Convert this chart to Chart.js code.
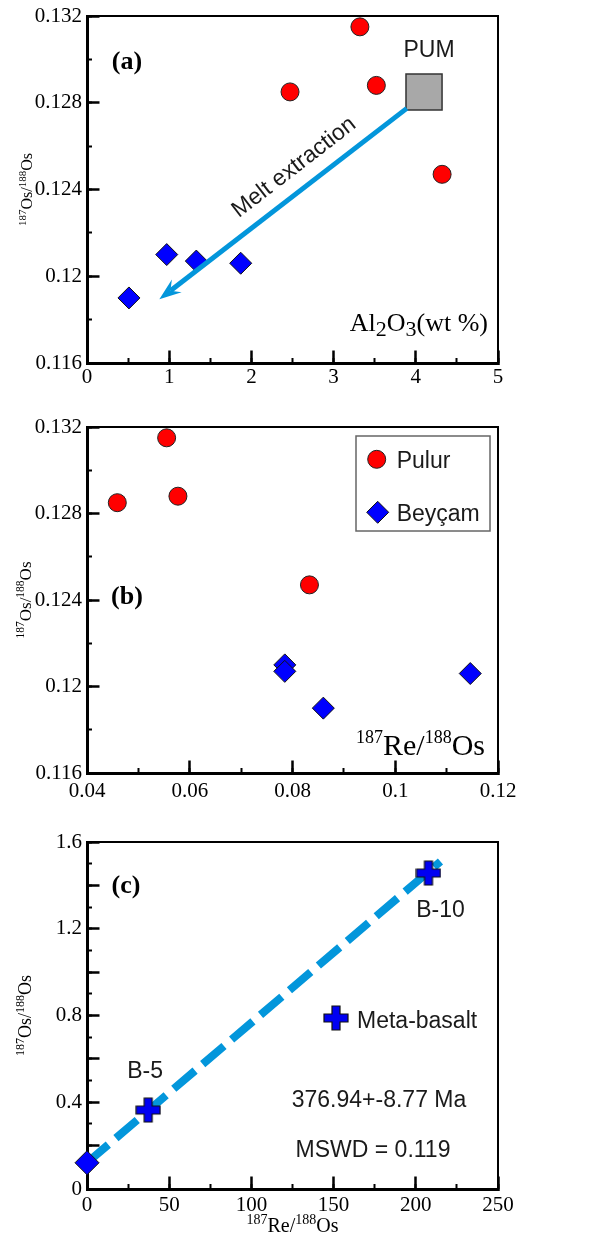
<!DOCTYPE html>
<html>
<head>
<meta charset="utf-8">
<title>Os isotope plots</title>
<script src="https://cdn.jsdelivr.net/npm/chart.js@4.4.1/dist/chart.umd.min.js"></script>
<style>
  html, body { margin: 0; padding: 0; background: #fff; }
  #wrap { position: relative; width: 606px; height: 1241px; overflow: hidden; }
  canvas { position: absolute; left: 0; }
</style>
</head>
<body>
<div id="wrap">
  <canvas id="chartA" width="606" height="400" style="top:0"></canvas>
  <canvas id="chartB" width="606" height="410" style="top:400px"></canvas>
  <canvas id="chartC" width="606" height="441" style="top:800px"></canvas>
</div>
<script>
// --- DATA ---
// Pulur peridotites
const pulurAl2O3 = [2.47, 3.32, 3.52, 4.32];
const pulurReOs  = [0.0459, 0.0555, 0.0577, 0.0833];
const pulurOsOs  = [0.1285, 0.1315, 0.1288, 0.1247];

// Beyçam peridotites
const beycamAl2O3 = [0.51, 0.97, 1.33, 1.87];
const beycamReOs  = [0.0860, 0.0785, 0.0785, 0.1146];
const beycamOsOs  = [0.1190, 0.1210, 0.1207, 0.1206];

// primitive upper mantle
const pumAl2O3 = [4.1];
const pumOsOs  = [0.1285];

// melt extraction trend (start, end)
const meltAl2O3 = [3.89, 0.88];
const meltOsOs  = [0.12774, 0.11894];

// meta-basalt isochron
const basaltNames = ['B-5', 'B-10'];
const basaltReOs  = [37.2, 207.7];
const basaltOsOs  = [0.364, 1.457];
const initialReOs = [0];
const initialOsOs = [0.121];
const isochronReOs = [0, 215];
const isochronOsOs = [0.121, 1.51];

// tick values and labels
const al2o3Ticks  = [0, 1, 2, 3, 4, 5];
const al2o3Labels = ['0', '1', '2', '3', '4', '5'];
const osTicks     = [0.116, 0.12, 0.124, 0.128, 0.132];
const osLabels    = ['0.116', '0.12', '0.124', '0.128', '0.132'];
const reOsTicks   = [0.04, 0.06, 0.08, 0.1, 0.12];
const reOsLabels  = ['0.04', '0.06', '0.08', '0.1', '0.12'];
const isoXTicks   = [0, 50, 100, 150, 200, 250];
const isoXLabels  = ['0', '50', '100', '150', '200', '250'];
const isoYTicks   = [0, 0.2, 0.4, 0.6, 0.8, 1.0, 1.2, 1.4, 1.6];
const isoYLabels  = ['0', '', '0.4', '', '0.8', '', '1.2', '', '1.6'];

const SERIF = '"Liberation Serif", "Times New Roman", serif';
const SANS = '"Liberation Sans", Arial, sans-serif';
const RED = '#ff0000';
const BLUE = '#0000ff';
const CYAN = '#0396db';
const INK = '#1a1a1a';

const zip = (xs, ys) => xs.map((x, i) => ({ x, y: ys[i] }));

// --- AXES ---
// ticks point into the plot, so tickLength is negative
function majorAxis(pos, a) {
  const isX = pos === 'bottom';
  return {
    type: 'linear', position: pos, min: a.min, max: a.max,
    border: { color: '#000', width: 3 },
    grid: { drawOnChartArea: false, tickLength: -12.5, tickWidth: 2.5, tickColor: '#000' },
    ticks: {
      autoSkip: false, maxRotation: 0, padding: a.pad, color: '#000',
      font: { family: SERIF, size: 21 },
      callback: (v, i) => a.labels[i]
    },
    afterBuildTicks: s => { s.ticks = a.ticks.map(v => ({ value: v })); },
    afterFit: s => {
      if (isX) s.height = a.size; else s.width = a.size;
      s.paddingLeft = s.paddingRight = s.paddingTop = s.paddingBottom = 0;
    }
  };
}

// zero-size companion axis that only draws the short minor ticks
function minorAxis(pos, a) {
  const isX = pos === 'bottom';
  return {
    type: 'linear', position: pos, min: a.min, max: a.max, weight: -1,
    border: { display: false },
    grid: { drawOnChartArea: false, tickLength: -5, tickWidth: 2, tickColor: '#000' },
    ticks: { display: false, stepSize: a.minor },
    afterFit: s => {
      if (isX) s.height = 0; else s.width = 0;
      s.paddingLeft = s.paddingRight = s.paddingTop = s.paddingBottom = 0;
    }
  };
}

function scalesFor(x, y) {
  return {
    x: majorAxis('bottom', x), y: majorAxis('left', y),
    xMinor: minorAxis('bottom', x), yMinor: minorAxis('left', y)
  };
}

// --- TEXT HELPERS ---
function richText(ctx, x, y, parts, family, align) {
  let w = 0;
  parts.forEach(p => {
    ctx.font = (p.bold ? 'bold ' : '') + p.s + 'px ' + family;
    p.w = ctx.measureText(p.t).width;
    w += p.w;
  });
  let cx = align === 'right' ? x - w : align === 'center' ? x - w / 2 : x;
  ctx.textAlign = 'left';
  ctx.textBaseline = 'alphabetic';
  parts.forEach(p => {
    ctx.font = (p.bold ? 'bold ' : '') + p.s + 'px ' + family;
    ctx.fillText(p.t, cx, y + (p.dy || 0));
    cx += p.w;
  });
}

function osRatio(main, sup) {
  const dy = -Math.round(main * 0.4);
  return [{ t: '187', s: sup, dy }, { t: 'Os/', s: main }, { t: '188', s: sup, dy }, { t: 'Os', s: main }];
}

function reRatio(main, sup) {
  const dy = -Math.round(main * 0.4);
  return [{ t: '187', s: sup, dy }, { t: 'Re/', s: main }, { t: '188', s: sup, dy }, { t: 'Os', s: main }];
}

function yTitle(ctx, area, x, parts) {
  ctx.save();
  ctx.fillStyle = '#000';
  ctx.translate(x, (area.top + area.bottom) / 2);
  ctx.rotate(-Math.PI / 2);
  richText(ctx, 0, 0, parts, SERIF, 'center');
  ctx.restore();
}

function label(ctx, text, x, y, font, align) {
  ctx.font = font;
  ctx.textAlign = align || 'center';
  ctx.textBaseline = 'middle';
  ctx.fillText(text, x, y);
}

// filled plus marker with dark outline
function plusMarker(size, arm, fill) {
  const c = document.createElement('canvas');
  c.width = c.height = size;
  const g = c.getContext('2d');
  const h = size / 2, a = arm / 2, e = h - 1;
  g.beginPath();
  g.moveTo(h - a, h - e); g.lineTo(h + a, h - e); g.lineTo(h + a, h - a);
  g.lineTo(h + e, h - a); g.lineTo(h + e, h + a); g.lineTo(h + a, h + a);
  g.lineTo(h + a, h + e); g.lineTo(h - a, h + e); g.lineTo(h - a, h + a);
  g.lineTo(h - e, h + a); g.lineTo(h - e, h - a); g.lineTo(h - a, h - a);
  g.closePath();
  g.fillStyle = fill; g.fill();
  g.strokeStyle = '#111'; g.lineWidth = 1.2; g.stroke();
  return c;
}
const plus = plusMarker(26, 8, '#0000f2');

// top and right sides of the plot box
const frame = {
  id: 'frame',
  beforeDatasetsDraw(chart) {
    const { ctx, chartArea: a } = chart;
    ctx.save();
    ctx.strokeStyle = '#000';
    ctx.lineWidth = 2;
    ctx.beginPath();
    ctx.moveTo(a.left, a.top); ctx.lineTo(a.right, a.top); ctx.lineTo(a.right, a.bottom);
    ctx.stroke();
    ctx.restore();
  }
};

const base = {
  responsive: false, animation: false, events: [], devicePixelRatio: 1,
  plugins: { legend: { display: false }, tooltip: { enabled: false } }
};

// --- (a) Al2O3 vs 187Os/188Os ---
const notesA = {
  id: 'notesA',
  afterDatasetsDraw(chart) {
    const { ctx, chartArea: a, scales: { x, y } } = chart;
    ctx.save();
    // melt extraction arrow
    const p0 = { x: x.getPixelForValue(meltAl2O3[0]), y: y.getPixelForValue(meltOsOs[0]) };
    const p1 = { x: x.getPixelForValue(meltAl2O3[1]), y: y.getPixelForValue(meltOsOs[1]) };
    const len = Math.hypot(p0.x - p1.x, p0.y - p1.y);
    const d = { x: (p0.x - p1.x) / len, y: (p0.y - p1.y) / len };
    const n = { x: d.y, y: -d.x };
    const notch = { x: p1.x + d.x * 14, y: p1.y + d.y * 14 };
    ctx.strokeStyle = CYAN; ctx.fillStyle = CYAN;
    ctx.lineWidth = 5; ctx.lineCap = 'butt';
    ctx.beginPath(); ctx.moveTo(p0.x, p0.y); ctx.lineTo(notch.x, notch.y); ctx.stroke();
    ctx.beginPath();
    ctx.moveTo(p1.x, p1.y);
    ctx.lineTo(p1.x + d.x * 22 + n.x * 8, p1.y + d.y * 22 + n.y * 8);
    ctx.lineTo(notch.x, notch.y);
    ctx.lineTo(p1.x + d.x * 22 - n.x * 8, p1.y + d.y * 22 - n.y * 8);
    ctx.closePath(); ctx.fill();

    ctx.fillStyle = INK;
    const mid = { x: (p0.x + p1.x) / 2, y: (p0.y + p1.y) / 2 };
    ctx.save();
    ctx.translate(mid.x + d.x * 31 + n.x * 22, mid.y + d.y * 31 + n.y * 22);
    ctx.rotate(Math.atan2(d.y, d.x));
    label(ctx, 'Melt extraction', 0, 0, '23px ' + SANS);
    ctx.restore();

    // PUM tag
    label(ctx, 'PUM', x.getPixelForValue(pumAl2O3[0]) + 5, y.getPixelForValue(pumOsOs[0]) - 41, '23px ' + SANS);

    ctx.fillStyle = '#000';
    label(ctx, '(a)', a.left + 40, a.top + 46, 'bold 26px ' + SERIF);
    richText(ctx, a.right - 10, a.bottom - 32, [
      { t: 'Al', s: 26 }, { t: '2', s: 22, dy: 5 }, { t: 'O', s: 26 }, { t: '3', s: 22, dy: 5 }, { t: '(wt %)', s: 26 }
    ], SERIF, 'right');
    yTitle(ctx, a, 32, osRatio(16, 11));
    ctx.restore();
  }
};

new Chart(document.getElementById('chartA'), {
  type: 'scatter',
  data: {
    datasets: [
      { label: 'Pulur', data: zip(pulurAl2O3, pulurOsOs), xAxisID: 'x', yAxisID: 'y',
        pointStyle: 'circle', pointRadius: 9, backgroundColor: RED, borderColor: '#222', borderWidth: 1 },
      { label: 'Beyçam', data: zip(beycamAl2O3, beycamOsOs), xAxisID: 'x', yAxisID: 'y',
        pointStyle: 'rectRot', pointRadius: 11, backgroundColor: BLUE, borderColor: '#111', borderWidth: 1 },
      { label: 'PUM', data: zip(pumAl2O3, pumOsOs), xAxisID: 'x', yAxisID: 'y',
        pointStyle: 'rect', pointRadius: 25.5, backgroundColor: '#a8a8a8', borderColor: '#333', borderWidth: 1.5 }
    ]
  },
  options: Object.assign({}, base, {
    layout: { autoPadding: false, padding: { top: 16, right: 108, bottom: 0, left: 0 } },
    scales: scalesFor(
      { min: 0, max: 5, ticks: al2o3Ticks, labels: al2o3Labels, minor: 0.5, size: 37, pad: 14 },
      { min: 0.116, max: 0.132, ticks: osTicks, labels: osLabels, minor: 0.002, size: 87, pad: 17.5 }
    )
  }),
  plugins: [frame, notesA]
});

// --- (b) 187Re/188Os vs 187Os/188Os ---
const notesB = {
  id: 'notesB',
  afterDatasetsDraw(chart) {
    const { ctx, chartArea: a } = chart;
    ctx.save();
    ctx.fillStyle = '#000';
    label(ctx, '(b)', a.left + 40, a.top + 170, 'bold 26px ' + SERIF);
    richText(ctx, a.right - 13, a.bottom - 18, reRatio(30, 18), SERIF, 'right');
    yTitle(ctx, a, 31, osRatio(17, 11.5));

    // legend box
    const bx = a.right - 142, by = a.top + 9;
    ctx.strokeStyle = '#666'; ctx.lineWidth = 1.5;
    ctx.strokeRect(bx, by, 134, 95);
    ctx.beginPath(); ctx.arc(bx + 20.7, by + 23.3, 9, 0, Math.PI * 2);
    ctx.fillStyle = RED; ctx.fill(); ctx.strokeStyle = '#222'; ctx.lineWidth = 1; ctx.stroke();
    const dx = bx + 21.7, dy = by + 76.3, r = 11;
    ctx.beginPath();
    ctx.moveTo(dx - r, dy); ctx.lineTo(dx, dy - r); ctx.lineTo(dx + r, dy); ctx.lineTo(dx, dy + r);
    ctx.closePath(); ctx.fillStyle = BLUE; ctx.fill(); ctx.strokeStyle = '#111'; ctx.stroke();
    ctx.fillStyle = INK;
    ctx.font = '23px ' + SANS; ctx.textAlign = 'left'; ctx.textBaseline = 'alphabetic';
    ctx.fillText('Pulur', bx + 40.7, by + 32);
    ctx.fillText('Beyçam', bx + 40.7, by + 85);
    ctx.restore();
  }
};

new Chart(document.getElementById('chartB'), {
  type: 'scatter',
  data: {
    datasets: [
      { label: 'Pulur', data: zip(pulurReOs, pulurOsOs), xAxisID: 'x', yAxisID: 'y',
        pointStyle: 'circle', pointRadius: 9, backgroundColor: RED, borderColor: '#222', borderWidth: 1 },
      { label: 'Beyçam', data: zip(beycamReOs, beycamOsOs), xAxisID: 'x', yAxisID: 'y',
        pointStyle: 'rectRot', pointRadius: 11, backgroundColor: BLUE, borderColor: '#111', borderWidth: 1 }
    ]
  },
  options: Object.assign({}, base, {
    layout: { autoPadding: false, padding: { top: 27, right: 108, bottom: 0, left: 0 } },
    scales: scalesFor(
      { min: 0.04, max: 0.12, ticks: reOsTicks, labels: reOsLabels, minor: 0.01, size: 37, pad: 18 },
      { min: 0.116, max: 0.132, ticks: osTicks, labels: osLabels, minor: 0.002, size: 87, pad: 17.5 }
    )
  }),
  plugins: [frame, notesB]
});

// --- (c) Re-Os isochron of the meta-basalts ---
const notesC = {
  id: 'notesC',
  afterDatasetsDraw(chart) {
    const { ctx, chartArea: a, scales: { x, y } } = chart;
    ctx.save();
    ctx.fillStyle = '#000';
    label(ctx, '(c)', a.left + 39, a.top + 44, 'bold 26px ' + SERIF);
    yTitle(ctx, a, 31, osRatio(18, 12));
    richText(ctx, (a.left + a.right) / 2, 432, reRatio(20, 14), SERIF, 'center');

    ctx.fillStyle = INK;
    const offs = [[-3, -38], [12, 38]];
    basaltNames.forEach((name, i) => {
      label(ctx, name, x.getPixelForValue(basaltReOs[i]) + offs[i][0],
        y.getPixelForValue(basaltOsOs[i]) + offs[i][1], '23px ' + SANS);
    });
    ctx.drawImage(plus, a.left + 249 - plus.width / 2, a.top + 176 - plus.height / 2);
    label(ctx, 'Meta-basalt', a.left + 270, a.top + 179.5, '23px ' + SANS, 'left');
    label(ctx, '376.94+-8.77 Ma', a.left + 292, a.top + 259, '23px ' + SANS);
    label(ctx, 'MSWD = 0.119', a.left + 286, a.top + 308.5, '23px ' + SANS);
    ctx.restore();
  }
};

new Chart(document.getElementById('chartC'), {
  type: 'scatter',
  data: {
    datasets: [
      { label: 'Isochron', data: zip(isochronReOs, isochronOsOs), xAxisID: 'x', yAxisID: 'y', order: 3,
        showLine: true, pointRadius: 0, borderColor: CYAN, borderWidth: 8,
        borderDash: [28, 10], borderCapStyle: 'butt', clip: false },
      { label: 'Meta-basalt', data: zip(basaltReOs, basaltOsOs), xAxisID: 'x', yAxisID: 'y', order: 1,
        pointStyle: plus, pointRadius: 12 },
      { label: 'Initial', data: zip(initialReOs, initialOsOs), xAxisID: 'x', yAxisID: 'y', order: 2,
        pointStyle: 'rectRot', pointRadius: 12, backgroundColor: BLUE, borderColor: '#111', borderWidth: 1, clip: false }
    ]
  },
  options: Object.assign({}, base, {
    layout: { autoPadding: false, padding: { top: 42, right: 108, bottom: 0, left: 0 } },
    scales: scalesFor(
      { min: 0, max: 250, ticks: isoXTicks, labels: isoXLabels, minor: 25, size: 52, pad: 16 },
      { min: 0, max: 1.6, ticks: isoYTicks, labels: isoYLabels, minor: 0.1, size: 87, pad: 17.5 }
    )
  }),
  plugins: [frame, notesC]
});
</script>
</body>
</html>
